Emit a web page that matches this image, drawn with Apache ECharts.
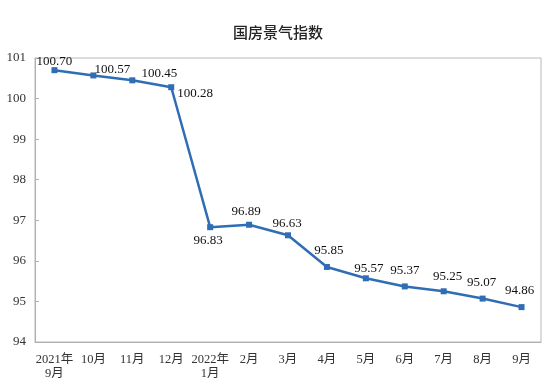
<!DOCTYPE html>
<html><head><meta charset="utf-8">
<script src="https://cdn.jsdelivr.net/npm/echarts@6/dist/echarts.min.js"></script>
<style>html,body{margin:0;padding:0;background:#fff}#c{width:556px;height:390px}</style>
</head><body><div id="c"></div>
<script>
var titleText = '国房景气指数';
var categories = ['2021年\n9月','10月','11月','12月','2022年\n1月','2月','3月','4月','5月','6月','7月','8月','9月'];
var values = [100.70,100.57,100.45,100.28,96.83,96.89,96.63,95.85,95.57,95.37,95.25,95.07,94.86];
var yTicks = [94,95,96,97,98,99,100,101];

// label placement offsets (style)
var labelOffsets = [[0,-9],[19,-6],[27,-7],[24,6],[-2,13],[-3,-13],[-1,-12],[2,-16],[3,-10],[0,-16],[4,-15],[-1,-16],[-2,-17]];

var serif = '"Liberation Serif","Times New Roman","Noto Sans CJK SC",serif';
var chart = echarts.init(document.getElementById('c'));
chart.setOption({
  animation: false,
  title: {text: titleText, left: 'center', top: 20,
    textStyle: {fontFamily: '"Noto Sans CJK SC",sans-serif', fontSize: 15, fontWeight: 500, color: '#222'}},
  grid: {left: 35, right: 15, top: 58, bottom: 48, show: true, borderColor: '#b8b8b8', borderWidth: 1},
  xAxis: {type: 'category', data: categories, boundaryGap: true,
    axisLine: {lineStyle: {color: '#b0b0b0'}},
    axisTick: {inside: true, length: 5, lineStyle: {color: '#b0b0b0'}},
    axisLabel: {fontFamily: serif, fontSize: 12.5, color: '#333', margin: 11, lineHeight: 14, interval: 0}},
  yAxis: {type: 'value', min: yTicks[0], max: yTicks[yTicks.length-1], interval: 1,
    splitLine: {show: false},
    axisLine: {show: true, lineStyle: {color: '#b0b0b0'}},
    axisTick: {show: true, inside: true, length: 4, lineStyle: {color: '#b0b0b0'}},
    axisLabel: {fontFamily: serif, fontSize: 13, color: '#333', margin: 9}},
  series: [{
    type: 'line', data: values.map(function(v, i){
      return {value: v, label: {offset: labelOffsets[i]}};
    }),
    symbol: 'rect', symbolSize: 6,
    lineStyle: {color: '#2f6db5', width: 2.5},
    itemStyle: {color: '#2f6db5'},
    label: {show: true, position: 'inside', align: 'center', verticalAlign: 'middle',
      fontFamily: serif, fontSize: 13, color: '#111',
      formatter: function(p){ return p.value.toFixed(2); }}
  }]
});
</script></body></html>
